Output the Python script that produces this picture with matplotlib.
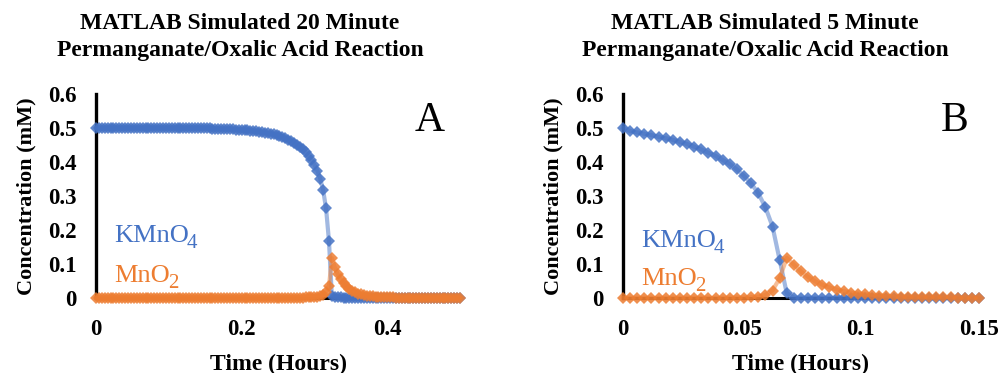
import matplotlib
matplotlib.use("Agg")
import matplotlib.pyplot as plt

plt.rcParams['font.family'] = ['Liberation Serif', 'DejaVu Serif']

# ---------------- data: panel A (20 minute) ----------------
time_a = [
    0.000, 0.004, 0.008, 0.012, 0.016, 0.020, 0.024, 0.028, 0.032, 0.036,
    0.040, 0.044, 0.048, 0.052, 0.056, 0.060, 0.064, 0.068, 0.072, 0.076,
    0.080, 0.084, 0.088, 0.092, 0.096, 0.100, 0.104, 0.108, 0.112, 0.116,
    0.120, 0.124, 0.128, 0.132, 0.136, 0.140, 0.144, 0.148, 0.152, 0.156,
    0.160, 0.164, 0.168, 0.172, 0.176, 0.180, 0.184, 0.188, 0.192, 0.196,
    0.200, 0.204, 0.208, 0.212, 0.216, 0.220, 0.224, 0.228, 0.232, 0.236,
    0.240, 0.244, 0.248, 0.252, 0.256, 0.260, 0.264, 0.268, 0.272, 0.276,
    0.280, 0.284, 0.288, 0.292, 0.296, 0.300, 0.304, 0.308, 0.312, 0.316,
    0.320, 0.324, 0.328, 0.332, 0.336, 0.340, 0.344, 0.348, 0.352, 0.356,
    0.360, 0.364, 0.368, 0.372, 0.376, 0.380, 0.384, 0.388, 0.392, 0.396,
    0.400, 0.404, 0.408, 0.412, 0.416, 0.420, 0.424, 0.428, 0.432, 0.436,
    0.440, 0.444, 0.448, 0.452, 0.456, 0.460, 0.464, 0.468, 0.472, 0.476,
    0.480, 0.484, 0.488, 0.492, 0.496, 0.500,
]
kmno4_a = [
    0.500, 0.500, 0.500, 0.500, 0.500, 0.500, 0.500, 0.500, 0.500, 0.500,
    0.500, 0.500, 0.500, 0.500, 0.500, 0.500, 0.500, 0.500, 0.500, 0.500,
    0.500, 0.500, 0.500, 0.500, 0.500, 0.500, 0.500, 0.500, 0.500, 0.500,
    0.500, 0.500, 0.500, 0.500, 0.500, 0.500, 0.499, 0.499, 0.499, 0.499,
    0.498, 0.498, 0.498, 0.497, 0.497, 0.497, 0.496, 0.496, 0.495, 0.495,
    0.494, 0.494, 0.493, 0.492, 0.491, 0.490, 0.489, 0.488, 0.486, 0.485,
    0.483, 0.481, 0.479, 0.476, 0.473, 0.470, 0.466, 0.462, 0.457, 0.451,
    0.444, 0.437, 0.428, 0.418, 0.406, 0.392, 0.375, 0.351, 0.317, 0.264,
    0.168, 0.005, 0.003, 0.002, 0.002, 0.001, 0.001, 0.001, 0.001, 0.001,
    0.001, 0.001, 0.001, 0.000, 0.000, 0.000, 0.000, 0.000, 0.000, 0.000,
    0.000, 0.000, 0.000, 0.000, 0.000, 0.000, 0.000, 0.000, 0.000, 0.000,
    0.000, 0.000, 0.000, 0.000, 0.000, 0.000, 0.000, 0.000, 0.000, 0.000,
    0.000, 0.000, 0.000, 0.000, 0.000, 0.000,
]
mno2_a = [
    0.000, 0.000, 0.000, 0.000, 0.000, 0.000, 0.000, 0.000, 0.000, 0.000,
    0.000, 0.000, 0.000, 0.000, 0.000, 0.000, 0.000, 0.000, 0.000, 0.000,
    0.000, 0.000, 0.000, 0.000, 0.000, 0.000, 0.000, 0.000, 0.000, 0.000,
    0.000, 0.000, 0.000, 0.000, 0.000, 0.000, 0.000, 0.000, 0.000, 0.000,
    0.000, 0.000, 0.000, 0.000, 0.000, 0.000, 0.000, 0.000, 0.000, 0.000,
    0.000, 0.000, 0.000, 0.000, 0.000, 0.000, 0.000, 0.000, 0.000, 0.000,
    0.000, 0.000, 0.000, 0.000, 0.000, 0.000, 0.001, 0.001, 0.001, 0.001,
    0.001, 0.001, 0.002, 0.002, 0.003, 0.003, 0.004, 0.006, 0.010, 0.018,
    0.034, 0.117, 0.090, 0.070, 0.055, 0.043, 0.034, 0.027, 0.021, 0.017,
    0.013, 0.011, 0.009, 0.007, 0.006, 0.005, 0.004, 0.003, 0.0025, 0.002,
    0.002, 0.0015, 0.0015, 0.001, 0.001, 0.001, 0.001, 0.001, 0.0005, 0.0005,
    0.0005, 0.0005, 0.000, 0.000, 0.000, 0.000, 0.000, 0.000, 0.000, 0.000,
    0.000, 0.000, 0.000, 0.000, 0.000, 0.000,
]

# ---------------- data: panel B (5 minute) ----------------
time_b = [
    0.000, 0.003, 0.006, 0.009, 0.012, 0.015, 0.018, 0.021, 0.024, 0.027,
    0.030, 0.033, 0.036, 0.039, 0.042, 0.045, 0.048, 0.051, 0.054, 0.057,
    0.060, 0.063, 0.066, 0.069, 0.072, 0.075, 0.078, 0.081, 0.084, 0.087,
    0.090, 0.093, 0.096, 0.099, 0.102, 0.105, 0.108, 0.111, 0.114, 0.117,
    0.120, 0.123, 0.126, 0.129, 0.132, 0.135, 0.138, 0.141, 0.144, 0.147,
    0.150,
]
kmno4_b = [
    0.500, 0.491, 0.487, 0.483, 0.479, 0.474, 0.470, 0.465, 0.459, 0.453,
    0.445, 0.437, 0.427, 0.418, 0.406, 0.394, 0.378, 0.359, 0.337, 0.308,
    0.267, 0.210, 0.112, 0.014, 0.001, 0.000, 0.000, 0.000, 0.000, 0.000,
    0.000, 0.000, 0.000, 0.000, 0.000, 0.000, 0.000, 0.000, 0.000, 0.000,
    0.000, 0.000, 0.000, 0.000, 0.000, 0.000, 0.000, 0.000, 0.000, 0.000,
    0.000,
]
mno2_b = [
    0.000, 0.000, 0.000, 0.000, 0.000, 0.000, 0.000, 0.000, 0.000, 0.000,
    0.000, 0.000, 0.000, 0.000, 0.000, 0.001, 0.001, 0.001, 0.002, 0.004,
    0.009, 0.022, 0.058, 0.118, 0.098, 0.078, 0.062, 0.049, 0.039, 0.031,
    0.025, 0.020, 0.016, 0.013, 0.011, 0.009, 0.007, 0.006, 0.005, 0.004,
    0.0035, 0.003, 0.0025, 0.002, 0.002, 0.0015, 0.0015, 0.001, 0.001, 0.001,
    0.001,
]

titles = ["MATLAB Simulated 20 Minute\nPermanganate/Oxalic Acid Reaction",
          "MATLAB Simulated 5 Minute\nPermanganate/Oxalic Acid Reaction"]
panel_letters = ["A", "B"]
xticks_a = [0, 0.2, 0.4]
xticklabels_a = ["0", "0.2", "0.4"]
xticks_b = [0, 0.05, 0.1, 0.15]
xticklabels_b = ["0", "0.05", "0.1", "0.15"]
yticks = [0, 0.1, 0.2, 0.3, 0.4, 0.5, 0.6]
yticklabels = ["0", "0.1", "0.2", "0.3", "0.4", "0.5", "0.6"]
species = [("KMnO", "4"), ("MnO", "2")]

BLUE = "#4472C4"
ORANGE = "#ED7D31"

W, H = 1002, 373
fig = plt.figure(figsize=(W / 100, H / 100), dpi=100)


def px_axes(x0, x1, ytop, ybot):
    return [x0 / W, (H - ybot) / H, (x1 - x0) / W, (ybot - ytop) / H]


panels = [
    dict(rect=px_axes(96, 460, 94, 298), t=time_a, k=kmno4_a, m=mno2_a,
         xlim=(0, 0.5), xt=xticks_a, xtl=xticklabels_a, title_x=240,
         letter_xy=(430, 121), k_xy=(114, 242), m_xy=(114, 282)),
    dict(rect=px_axes(623, 979, 94, 298), t=time_b, k=kmno4_b, m=mno2_b,
         xlim=(0, 0.15), xt=xticks_b, xtl=xticklabels_b, title_x=765,
         letter_xy=(955, 121), k_xy=(641, 247), m_xy=(641, 285)),
]

label_items = []
for i, p in enumerate(panels):
    ax = fig.add_axes(p["rect"])
    ax.plot(p["t"], p["k"], color=BLUE, lw=3.0, alpha=0.5, zorder=3,
            clip_on=False, solid_joinstyle='round')
    ax.plot(p["t"], p["k"], linestyle='none', marker='D', markersize=6.5,
            color=BLUE, markeredgewidth=0, alpha=0.85, zorder=4, clip_on=False)
    ax.plot(p["t"], p["m"], color=ORANGE, lw=3.0, alpha=0.5, zorder=5,
            clip_on=False, solid_joinstyle='round')
    ax.plot(p["t"], p["m"], linestyle='none', marker='D', markersize=6.5,
            color=ORANGE, markeredgewidth=0, alpha=0.85, zorder=6, clip_on=False)

    ax.set_xlim(*p["xlim"])
    ax.set_ylim(0, 0.6)
    ax.set_xticks(p["xt"])
    ax.set_xticklabels(p["xtl"])
    ax.set_yticks(yticks)
    ax.set_yticklabels(yticklabels)
    ax.tick_params(axis='both', length=0, labelsize=16.5)
    ax.tick_params(axis='x', pad=15)
    ax.tick_params(axis='y', pad=14)
    for lab in ax.get_xticklabels() + ax.get_yticklabels():
        lab.set_fontweight('bold')
    for s in ['top', 'right']:
        ax.spines[s].set_visible(False)
    ax.spines['left'].set_linewidth(2.4)
    ax.spines['left'].set_color('black')
    ax.spines['bottom'].set_linewidth(2.2)
    ax.spines['bottom'].set_color('black')
    ax.patch.set_alpha(0)

    ax.set_xlabel("Time (Hours)", fontsize=17, fontweight='bold', labelpad=10)
    ax.set_ylabel("Concentration (mM)", fontsize=16, fontweight='bold', labelpad=8)

    fig.text(p["title_x"] / W, 1 - 37 / H, titles[i], ha='center', va='center',
             fontsize=17, fontweight='bold', linespacing=1.38)
    lx, ly = p["letter_xy"]
    fig.text(lx / W, 1 - ly / H, panel_letters[i], ha='center', va='center',
             fontsize=30)
    for (main, sub), xy, col in zip(species, [p["k_xy"], p["m_xy"]], [BLUE, ORANGE]):
        t_main = fig.text(xy[0] / W, 1 - xy[1] / H, main, ha='left',
                          va='baseline', fontsize=19, color=col)
        label_items.append((t_main, sub, col, xy[1]))

fig.canvas.draw()
renderer = fig.canvas.get_renderer()
for t_main, sub, col, base_y in label_items:
    bb = t_main.get_window_extent(renderer)
    fig.text((bb.x1 - 2) / W, 1 - (base_y + 6) / H, sub, ha='left',
             va='baseline', fontsize=15, color=col)

fig.savefig("out.png", dpi=100)
